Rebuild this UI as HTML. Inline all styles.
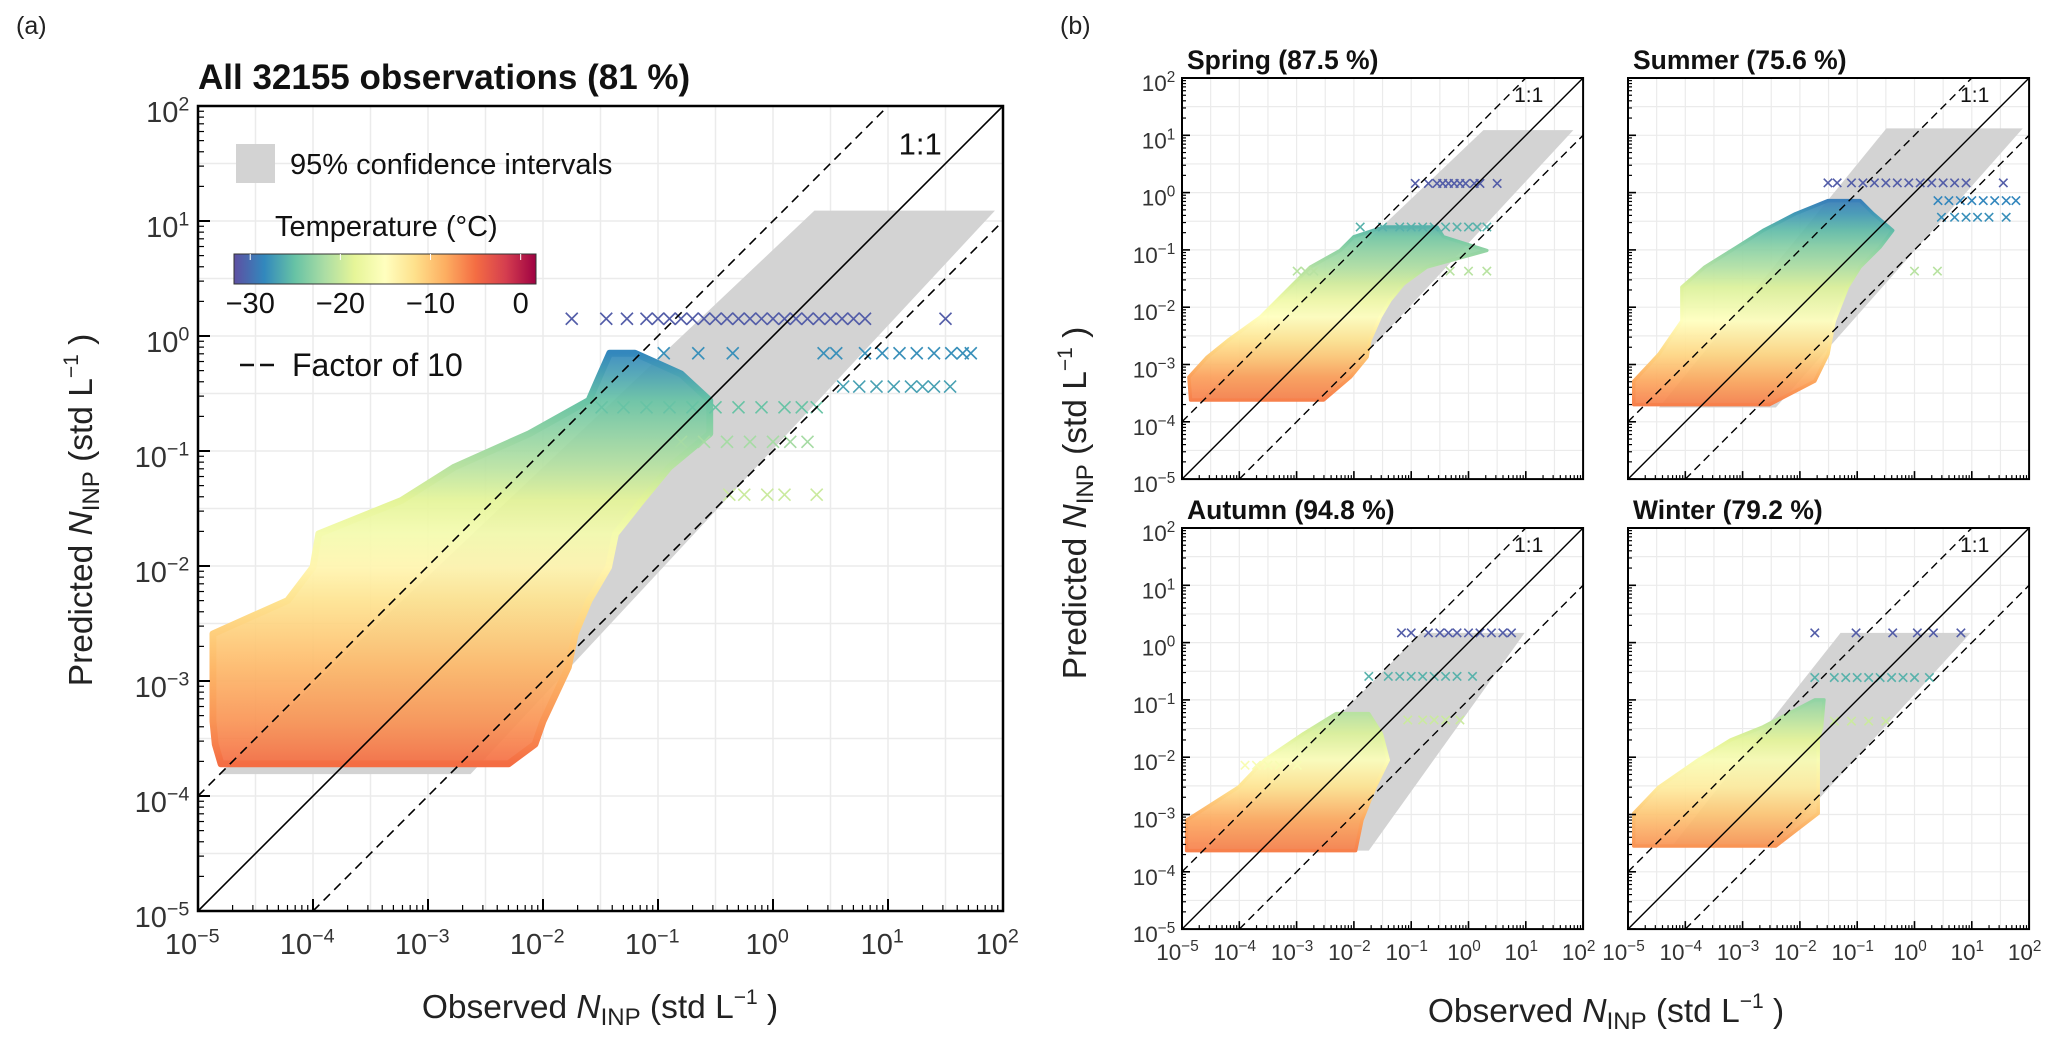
<!DOCTYPE html>
<html><head><meta charset="utf-8"><title>INP prediction vs observation</title>
<style>
html,body{margin:0;padding:0;background:#fff;}
svg{display:block;font-family:"Liberation Sans",Arial,sans-serif;}
</style></head>
<body>
<svg id="fig" xmlns="http://www.w3.org/2000/svg" width="2067" height="1045" viewBox="0 0 2067 1045">
<rect x="0" y="0" width="2067" height="1045" fill="#fff"/>
<defs>
<linearGradient id="cbar" x1="0" x2="1" y1="0" y2="0">
<stop offset="0" stop-color="#5e4fa2"/><stop offset="0.1" stop-color="#3288bd"/><stop offset="0.2" stop-color="#66c2a5"/><stop offset="0.3" stop-color="#abdda4"/><stop offset="0.4" stop-color="#e6f598"/><stop offset="0.5" stop-color="#ffffbf"/><stop offset="0.6" stop-color="#fee08b"/><stop offset="0.7" stop-color="#fdae61"/><stop offset="0.8" stop-color="#f46d43"/><stop offset="0.9" stop-color="#d53e4f"/><stop offset="1" stop-color="#9e0142"/>
</linearGradient>
</defs>
<text x="16" y="34" font-size="25" fill="#222">(a)</text>
<text x="1060" y="34" font-size="25" fill="#222">(b)</text>
<text x="198" y="89" font-size="35" font-weight="bold" fill="#111">All 32155 observations (81 %)</text>
<text x="1187" y="69" font-size="26.5" font-weight="bold" fill="#111">Spring (87.5 %)</text>
<text x="1633" y="69" font-size="26.5" font-weight="bold" fill="#111">Summer (75.6 %)</text>
<text x="1187" y="519" font-size="26.5" font-weight="bold" fill="#111">Autumn (94.8 %)</text>
<text x="1633" y="519" font-size="26.5" font-weight="bold" fill="#111">Winter (79.2 %)</text>
<g id="panels"></g>
<text x="600" y="1018" font-size="33.5" text-anchor="middle" fill="#222">Observed <tspan font-style="italic">N</tspan><tspan font-size="24" dy="7">INP</tspan><tspan dy="-7"> (std L</tspan><tspan font-size="21" dy="-14">−1</tspan><tspan dy="14"> )</tspan></text>
<text transform="translate(92,510) rotate(-90)" font-size="33.5" text-anchor="middle" fill="#222">Predicted <tspan font-style="italic">N</tspan><tspan font-size="24" dy="7">INP</tspan><tspan dy="-7"> (std L</tspan><tspan font-size="21" dy="-14">−1</tspan><tspan dy="14"> )</tspan></text>
<text x="1606" y="1022" font-size="33.5" text-anchor="middle" fill="#222">Observed <tspan font-style="italic">N</tspan><tspan font-size="24" dy="7">INP</tspan><tspan dy="-7"> (std L</tspan><tspan font-size="21" dy="-14">−1</tspan><tspan dy="14"> )</tspan></text>
<text transform="translate(1086,503) rotate(-90)" font-size="33.5" text-anchor="middle" fill="#222">Predicted <tspan font-style="italic">N</tspan><tspan font-size="24" dy="7">INP</tspan><tspan dy="-7"> (std L</tspan><tspan font-size="21" dy="-14">−1</tspan><tspan dy="14"> )</tspan></text>
<g>
<rect x="236" y="144" width="39" height="39" fill="#d3d3d3"/>
<text x="290" y="174" font-size="29" fill="#111">95% confidence intervals</text>
<text x="275" y="236" font-size="29" fill="#111">Temperature (°C)</text>
<rect x="234" y="254" width="302" height="30" fill="url(#cbar)" stroke="#333" stroke-width="1"/>
<line x1="240" y1="365" x2="276" y2="365" stroke="#111" stroke-width="2.5" stroke-dasharray="14,6"/>
<text x="292" y="376" font-size="32" fill="#111">Factor of 10</text>
</g>
<g id="cbticks"></g>
</svg>
<script>
// ---------- data ----------
const cbTicks = [-30, -20, -10, 0];
const tempMin = -31.8, tempMax = 1.7;
const decades = [-5, -4, -3, -2, -1, 0, 1, 2];

// Panel a: cloud rows (log10 predicted), observed extents (log10), temperature
const aCloudY    = [-3.72, -3.55, -3.35, -2.88, -2.59, -2.30, -2.01, -1.72, -1.43, -1.14, -0.85, -0.56, -0.33, -0.15];
const aCloudXmin = [-4.80, -4.85, -4.87, -4.87, -4.87, -4.22, -4.00, -3.95, -3.23, -2.77, -2.12, -1.60, -1.50, -1.42];
const aCloudXmax = [-2.30, -2.07, -2.00, -1.78, -1.72, -1.60, -1.43, -1.37, -1.14, -0.90, -0.55, -0.55, -0.80, -1.20];
const aCloudT    = [-5, -6, -7, -9, -10.5, -12, -14, -16.5, -18.5, -21, -23, -25, -27, -28.5];
const aCiY = [-3.81, 1.09], aCiXmin = [-4.82, 0.36], aCiXmax = [-2.63, 1.93];
const aMarkY = [0.15, -0.15, -0.44, -0.62, -0.92, -1.38];
const aMarkT = [-31, -28, -27, -25, -22, -20];
const aMarkX = [
  [-1.75, -1.45, -1.27, -1.1, -1.0, -0.9, -0.8, -0.7, -0.6, -0.5, -0.4, -0.3, -0.2, -0.1, 0.0, 0.1, 0.2, 0.3, 0.4, 0.5, 0.6, 0.7, 0.8, 1.5],
  [-0.95, -0.65, -0.35, 0.44, 0.55, 0.8, 0.95, 1.1, 1.25, 1.4, 1.55, 1.65, 1.72],
  [0.61, 0.75, 0.9, 1.05, 1.2, 1.3, 1.4, 1.54],
  [-1.49, -1.3, -1.1, -0.9, -0.7, -0.5, -0.3, -0.1, 0.1, 0.25, 0.38],
  [-0.8, -0.6, -0.4, -0.2, 0.0, 0.15, 0.3],
  [-0.38, -0.25, -0.05, 0.1, 0.38]
];

// Spring
const spCloudY    = [-3.62, -3.22, -2.87, -2.58, -2.17, -1.88, -1.59, -1.30, -1.01, -0.77, -0.60];
const spCloudXmin = [-4.85, -4.88, -4.56, -4.20, -3.63, -3.34, -3.05, -2.76, -2.24, -2.00, -1.48];
const spCloudXmax = [-2.53, -2.06, -1.77, -1.72, -1.54, -1.37, -1.13, -0.73, 0.32, -0.44, -0.55];
const spCloudT    = [-6, -7.5, -10, -12, -15, -17, -19.5, -21.5, -23, -24.5, -26];
const spCiY = [-3.61, 1.09], spCiXmin = [-4.68, 0.26], spCiXmax = [-2.53, 1.83];
const spMarkY = [0.16, -0.60, -1.37];
const spMarkT = [-31, -26, -21];
const spMarkX = [[-0.93, -0.7, -0.55, -0.45, -0.35, -0.25, -0.15, -0.05, 0.1, 0.2, 0.5], [-1.89, -1.5, -1.2, -1.0, -0.8, -0.6, -0.4, -0.2, 0.0, 0.15, 0.32], [-2.99, -2.85, -2.7, -0.32, 0.0, 0.32]];

// Summer
const suCloudY    = [-3.70, -3.29, -2.82, -2.24, -1.65, -1.30, -0.95, -0.66, -0.37, -0.14];
const suCloudXmin = [-4.90, -4.90, -4.46, -4.06, -4.06, -3.66, -3.10, -2.64, -2.08, -1.51];
const suCloudXmax = [-2.53, -1.74, -1.51, -1.40, -1.17, -0.95, -0.60, -0.38, -0.72, -0.95];
const suCloudT    = [-6, -8, -11, -15, -19, -21.5, -23.5, -25.5, -27.5, -29];
const suCiY = [-3.75, 1.12], suCiXmin = [-4.46, -0.49], suCiXmax = [-2.42, 1.89];
const suMarkY = [0.17, -0.14, -0.43, -1.37];
const suMarkT = [-31, -28.5, -28, -21];
const suMarkX = [[-1.51, -1.35, -1.1, -0.9, -0.7, -0.5, -0.3, -0.1, 0.1, 0.3, 0.5, 0.7, 0.9, 1.55], [0.41, 0.6, 0.8, 1.0, 1.2, 1.4, 1.6, 1.77], [0.47, 0.7, 0.9, 1.1, 1.3, 1.6], [0.0, 0.4]];

// Autumn
const auCloudY    = [-3.63, -3.10, -2.52, -2.05, -1.59, -1.24];
const auCloudXmin = [-4.92, -4.92, -4.01, -3.56, -2.88, -2.31];
const auCloudXmax = [-1.97, -1.86, -1.63, -1.40, -1.52, -1.74];
const auCloudT    = [-6, -8, -12, -15.5, -19, -21];
const auCiY = [-3.63, 0.17], auCiXmin = [-4.58, -0.83], auCiXmax = [-1.74, 0.98];
const auMarkY = [0.17, -0.59, -1.35, -2.14];
const auMarkT = [-31, -26, -20, -16];
const auMarkX = [[-1.17, -1.0, -0.7, -0.5, -0.35, -0.2, 0.0, 0.2, 0.4, 0.6, 0.75], [-1.74, -1.4, -1.2, -1.0, -0.8, -0.6, -0.4, -0.2, 0.07], [-1.06, -0.8, -0.6, -0.4, -0.15], [-3.9, -3.7, -3.5, -3.3, -2.99]];

// Winter
const wiCloudY    = [-3.55, -2.98, -2.52, -2.05, -1.70, -1.47, -1.00];
const wiCloudXmin = [-4.90, -4.90, -4.46, -3.78, -3.21, -2.64, -1.74];
const wiCloudXmax = [-2.42, -1.68, -1.68, -1.68, -1.68, -1.62, -1.58];
const wiCloudT    = [-7, -10, -13, -16, -18.5, -20, -23];
const wiCiY = [-3.55, 0.17], wiCiXmin = [-4.23, -1.29], wiCiXmax = [-2.42, 0.98];
const wiMarkY = [0.17, -0.61, -1.37];
const wiMarkT = [-31, -26, -20];
const wiMarkX = [[-1.74, -1.02, -0.38, 0.05, 0.33, 0.81], [-1.74, -1.4, -1.2, -1.0, -0.8, -0.6, -0.4, -0.2, 0.0, 0.26], [-1.4, -1.1, -0.8, -0.5]];

// ---------- rendering ----------
const NS = 'http://www.w3.org/2000/svg';
const SPEC = ['#5e4fa2','#3288bd','#66c2a5','#abdda4','#e6f598','#ffffbf','#fee08b','#fdae61','#f46d43','#d53e4f','#9e0142'];
function hex(c){return [parseInt(c.slice(1,3),16),parseInt(c.slice(3,5),16),parseInt(c.slice(5,7),16)];}
function tcolor(t){
  let f=(t-tempMin)/(tempMax-tempMin)*(SPEC.length-1);
  f=Math.max(0,Math.min(SPEC.length-1.0001,f));
  const i=Math.floor(f), r=f-i, a=hex(SPEC[i]), b=hex(SPEC[i+1]);
  return 'rgb('+a.map((v,k)=>Math.round(v+(b[k]-v)*r)).join(',')+')';
}
function mk(tag, attrs, parent){
  const el=document.createElementNS(NS,tag);
  for(const k in attrs) el.setAttribute(k,attrs[k]);
  parent.appendChild(el);
  return el;
}
const root=document.getElementById('panels');
const defs=document.querySelector('defs');

// colorbar ticks
const cbG=document.getElementById('cbticks');
cbTicks.forEach(t=>{
  const x=234+(t-tempMin)/(tempMax-tempMin)*302;
  const tk=mk('line',{x1:x,y1:254,x2:x,y2:260,stroke:'#fff','stroke-width':1},cbG);
  
  
  const tl=mk('text',{x:x,y:313,'font-size':29,'text-anchor':'middle',fill:'#111'},cbG);
  
  
  tl.textContent=(t<0?'−':'')+Math.abs(t);
});

function drawPanel(id, L, cloud, ci, marks){
  const g=mk('g',{},root);
  
  
  const sx=v=>L.x0+(v+5)*L.dec, sy=v=>L.y0+(2-v)*L.dec;
  const W=7*L.dec;
  for(let v=-5; v<=2; v+=0.5){
    const gx=mk('line',{x1:sx(v),y1:L.y0,x2:sx(v),y2:L.y0+W,stroke:'#ebebeb','stroke-width':L.gw},g);
    
    
    const gy=mk('line',{x1:L.x0,y1:sy(v),x2:L.x0+W,y2:sy(v),stroke:'#ebebeb','stroke-width':L.gw},g);
    
    
  }
  const cp=[[sx(ci.xmin[0]),sy(ci.y[0])],[sx(ci.xmax[0]),sy(ci.y[0])],[sx(ci.xmax[1]),sy(ci.y[1])],[sx(ci.xmin[1]),sy(ci.y[1])]];
  const ciEl=mk('polygon',{points:cp.map(p=>p.join(',')).join(' '),fill:'#d3d3d3'},g);
  
  
  const n=cloud.y.length;
  const gid='grad-'+id;
  const y1=sy(cloud.y[0]), y2=sy(cloud.y[n-1]);
  const lg=mk('linearGradient',{id:gid,gradientUnits:'userSpaceOnUse',x1:0,x2:0,y1:y1,y2:y2},defs);
  cloud.y.forEach((v,i)=>{
    const off=(sy(v)-y1)/(y2-y1);
    mk('stop',{offset:off,'stop-color':tcolor(cloud.t[i])},lg);
  });
  const pts=[];
  for(let i=0;i<n;i++) pts.push([sx(cloud.xmin[i]),sy(cloud.y[i])]);
  for(let i=n-1;i>=0;i--) pts.push([sx(cloud.xmax[i]),sy(cloud.y[i])]);
  const cl=mk('polygon',{points:pts.map(p=>p.join(',')).join(' '),fill:'url(#'+gid+')','fill-opacity':0.92,'stroke':'url(#'+gid+')','stroke-width':L.dec*0.06,'stroke-linejoin':'round'},g);
  
  
  const ms=L.ms;
  marks.y.forEach((yv,i)=>{
    marks.x[i].forEach(xv=>{
      const cx=sx(xv), cy=sy(yv);
      const m=mk('path',{d:'M'+(cx-ms)+','+(cy-ms)+'L'+(cx+ms)+','+(cy+ms)+'M'+(cx-ms)+','+(cy+ms)+'L'+(cx+ms)+','+(cy-ms),stroke:tcolor(marks.t[i]),'stroke-width':1.6,fill:'none'},g);
      
      
    });
  });
  const l11=mk('line',{x1:sx(-5),y1:sy(-5),x2:sx(2),y2:sy(2),stroke:'#000','stroke-width':L.lw},g);
  
  
  const lu=mk('line',{x1:sx(-5),y1:sy(-4),x2:sx(1),y2:sy(2),stroke:'#000','stroke-width':L.lw,'stroke-dasharray':L.dash},g);
  
  
  const ld=mk('line',{x1:sx(-4),y1:sy(-5),x2:sx(2),y2:sy(1),stroke:'#000','stroke-width':L.lw,'stroke-dasharray':L.dash},g);
  
  
  const t11=mk('text',{x:sx(2)-L.dec*L.p11,y:L.y0+L.dec*0.42,'font-size':L.fs11,'text-anchor':'middle',fill:'#111'},g);
  
  
  t11.textContent='1:1';
  const fr=mk('rect',{x:L.x0,y:L.y0,width:W,height:W,fill:'none',stroke:'#000','stroke-width':L.fw},g);
  
  
  decades.forEach(d=>{
    const tx=mk('line',{x1:sx(d),y1:L.y0+W,x2:sx(d),y2:L.y0+W-L.tl,stroke:'#000','stroke-width':L.fw*0.8},g);
    
    
    const ty=mk('line',{x1:L.x0,y1:sy(d),x2:L.x0+L.tl,y2:sy(d),stroke:'#000','stroke-width':L.fw*0.8},g);
    
    
    if(d<2){
      for(let k=2;k<=9;k++){
        const v=d+Math.log10(k);
        const mx=mk('line',{x1:sx(v),y1:L.y0+W,x2:sx(v),y2:L.y0+W-L.tl*0.5,stroke:'#000','stroke-width':1.2},g);
        
        
        const my=mk('line',{x1:L.x0,y1:sy(v),x2:L.x0+L.tl*0.5,y2:sy(v),stroke:'#000','stroke-width':1.2},g);
        
        
      }
    }
    const sup=(d<0?'−':'')+Math.abs(d);
    if(L.xlab){
      const xt=mk('text',{x:sx(d)-L.fs*0.2,y:L.y0+W+L.xoff,'font-size':L.fs,'text-anchor':'middle',fill:'#333'},g);
      
      
      xt.innerHTML='10<tspan font-size="'+(L.fs*0.68)+'" dy="'+(-L.fs*0.4)+'">'+sup+'</tspan>';
    }
    if(L.ylab){
      const yt=mk('text',{x:L.x0-L.fs*0.3,y:sy(d)+L.yoff,'font-size':L.fs,'text-anchor':'end',fill:'#333'},g);
      
      
      yt.innerHTML='10<tspan font-size="'+(L.fs*0.68)+'" dy="'+(-L.fs*0.4)+'">'+sup+'</tspan>';
    }
  });
}

const big={x0:198,y0:106,dec:115,gw:1.5,lw:1.6,dash:'9,6',fw:2.5,tl:12,fs:29,fs11:31,p11:0.72,ms:6,xlab:true,ylab:true,xoff:43,yoff:16};
function small(x0,y0,xl,yl){return {x0:x0,y0:y0,dec:57.3,gw:1.2,lw:1.4,dash:'8,5',fw:2,tl:8,fs:22.5,fs11:21,p11:0.95,ms:4.2,xlab:xl,ylab:yl,xoff:31,yoff:13};}

drawPanel('all', big, {y:aCloudY,xmin:aCloudXmin,xmax:aCloudXmax,t:aCloudT}, {y:aCiY,xmin:aCiXmin,xmax:aCiXmax}, {y:aMarkY,x:aMarkX,t:aMarkT});
drawPanel('spring', small(1182,78,false,true), {y:spCloudY,xmin:spCloudXmin,xmax:spCloudXmax,t:spCloudT}, {y:spCiY,xmin:spCiXmin,xmax:spCiXmax}, {y:spMarkY,x:spMarkX,t:spMarkT});
drawPanel('summer', small(1628,78,false,false), {y:suCloudY,xmin:suCloudXmin,xmax:suCloudXmax,t:suCloudT}, {y:suCiY,xmin:suCiXmin,xmax:suCiXmax}, {y:suMarkY,x:suMarkX,t:suMarkT});
drawPanel('autumn', small(1182,528,true,true), {y:auCloudY,xmin:auCloudXmin,xmax:auCloudXmax,t:auCloudT}, {y:auCiY,xmin:auCiXmin,xmax:auCiXmax}, {y:auMarkY,x:auMarkX,t:auMarkT});
drawPanel('winter', small(1628,528,true,false), {y:wiCloudY,xmin:wiCloudXmin,xmax:wiCloudXmax,t:wiCloudT}, {y:wiCiY,xmin:wiCiXmin,xmax:wiCiXmax}, {y:wiMarkY,x:wiMarkX,t:wiMarkT});
</script>
</body></html>
